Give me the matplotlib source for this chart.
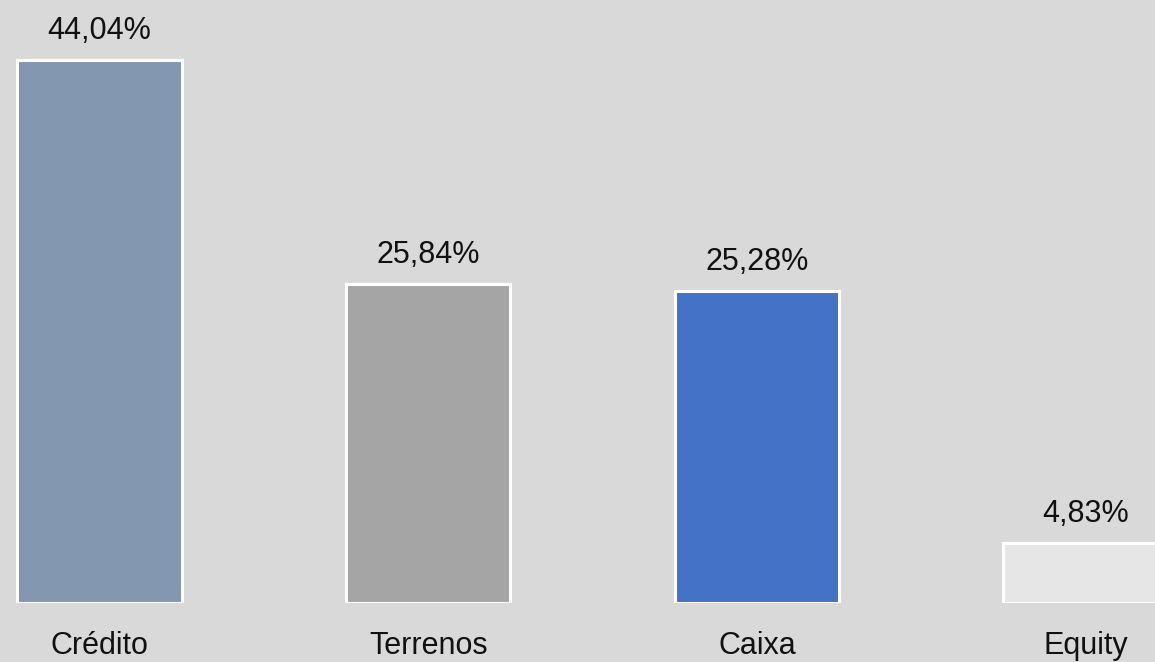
import matplotlib
matplotlib.use("Agg")
import matplotlib.pyplot as plt

categories = ["Crédito", "Terrenos", "Caixa", "Equity"]
values = [44.04, 25.84, 25.28, 4.83]
labels = ["44,04%", "25,84%", "25,28%", "4,83%"]
colors = ["#8497b0", "#a5a5a5", "#4472c4", "#e7e6e6"]

plt.rcParams['font.family'] = ['Liberation Sans', 'DejaVu Sans']
fig = plt.figure(figsize=(11.55, 6.62), dpi=100)
fig.patch.set_facecolor("#d9d9d9")
ax = fig.add_axes([0, 59/662, 1, 603/662])
ax.set_facecolor("#d9d9d9")
x = range(len(categories))
bars = ax.bar(x, values, width=0.5, color=colors, edgecolor="white", linewidth=2.2)
for b, lab in zip(bars, labels):
    ax.annotate(lab, (b.get_x() + b.get_width()/2, b.get_height()), xytext=(0, 21),
                textcoords="offset points", ha="center", va="center", fontsize=22, color="#111111")
ax.set_xlim(-0.3027, 3.211)
ax.set_ylim(0, 48.9)
ax.set_xticks(list(x))
ax.set_xticklabels(categories, fontsize=22, color="#111111")
ax.tick_params(axis='x', length=0, pad=20)
ax.set_yticks([])
for s in ax.spines.values():
    s.set_visible(False)
fig.savefig("out.png", dpi=100, facecolor=fig.get_facecolor())
